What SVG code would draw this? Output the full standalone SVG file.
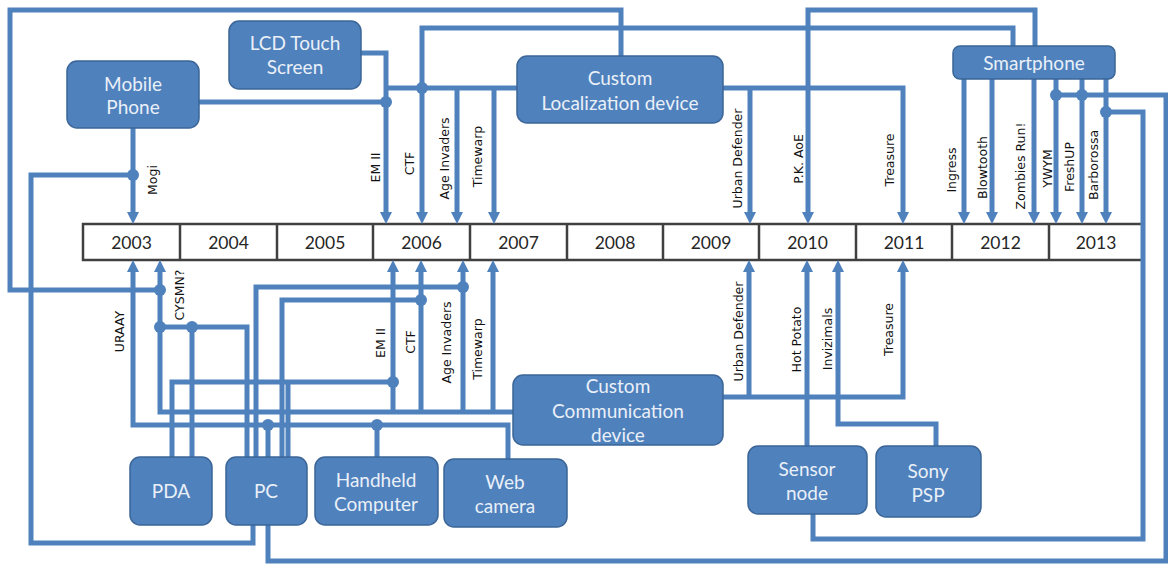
<svg xmlns="http://www.w3.org/2000/svg" width="1168" height="564" viewBox="0 0 1168 564">
<defs>
<style>
.c{fill:none;stroke:#4f81bd;stroke-width:5;stroke-linejoin:miter}
.a{marker-end:url(#ah)}
.dot{fill:#4f81bd}
.n{fill:#4f81bd;stroke:#3b6697;stroke-width:1.5}
.nt{font-family:Lato,"Open Sans",sans-serif;font-size:19px;fill:#eaf0f8;text-anchor:middle}
.yr{font-family:Lato,"Open Sans",sans-serif;font-size:17.5px;fill:#262626;text-anchor:middle}
.lb{font-family:"DejaVu Sans",Verdana,sans-serif;font-size:12.5px;fill:#111;text-anchor:middle}
.tl{fill:#fff;stroke:#404040;stroke-width:2.5}
</style>
<marker id="ah" markerUnits="userSpaceOnUse" viewBox="0 0 12 12" markerWidth="12" markerHeight="12" refX="4" refY="6" orient="auto">
<path d="M0,0 L12,6 L0,12 z" fill="#4f81bd"/>
</marker>
</defs>
<rect width="1168" height="564" fill="#fff"/>

<g id="timeline">
<path class="tl" d="M1143,224 H83 V260 H1143"/>
<path fill="none" stroke="#404040" stroke-width="2.5" d="M180,224V260M277,224V260M373,224V260M470,224V260M567,224V260M663,224V260M759,224V260M856,224V260M952,224V260M1049,224V260"/>
<text class="yr" x="131.5" y="249">2003</text>
<text class="yr" x="228.5" y="249">2004</text>
<text class="yr" x="325" y="249">2005</text>
<text class="yr" x="421.5" y="249">2006</text>
<text class="yr" x="518.5" y="249">2007</text>
<text class="yr" x="615" y="249">2008</text>
<text class="yr" x="711" y="249">2009</text>
<text class="yr" x="807.5" y="249">2010</text>
<text class="yr" x="904" y="249">2011</text>
<text class="yr" x="1000.5" y="249">2012</text>
<text class="yr" x="1096" y="249">2013</text>
</g>

<g id="connectors">
<path class="c" d="M621,56 V10 H10 V290 H160"/>
<path class="c a" d="M1013,46 V28 H422 V216"/>
<path class="c a" d="M1035,46 V10 H808 V216"/>
<path class="c a" d="M361,53 H386 V216"/>
<path class="c" d="M199,102 H386"/>
<path class="c" d="M517,88 H386"/>
<path class="c a" d="M457,88 V216"/>
<path class="c a" d="M494,88 V216"/>
<path class="c a" d="M723,88 H903 V216"/>
<path class="c a" d="M750,88 V216"/>
<path class="c a" d="M133,128 V216"/>
<path class="c" d="M133,175 H31 V543 H253 V525"/>
<path class="c a" d="M964,79 V216"/>
<path class="c a" d="M992,79 V216"/>
<path class="c a" d="M1034,79 V216"/>
<path class="c a" d="M1056,79 V216"/>
<path class="c a" d="M1082,79 V216"/>
<path class="c a" d="M1106,79 V216"/>
<path class="c" d="M1056,95 H1166 V561 H268 V525"/>
<path class="c" d="M1106,112 H1143 V539 H813 V514"/>
<path class="c a" d="M508,459 V425 H133 V268"/>
<path class="c" d="M268,457 V425"/>
<path class="c" d="M377,457 V425"/>
<path class="c a" d="M513,412 H160 V268"/>
<path class="c a" d="M393,412 V268"/>
<path class="c a" d="M421,412 V268"/>
<path class="c a" d="M463,412 V268"/>
<path class="c a" d="M493,412 V268"/>
<path class="c" d="M247,457 V327 H160"/>
<path class="c" d="M192,457 V327"/>
<path class="c" d="M256,457 V287 H463"/>
<path class="c" d="M282,457 V300 H421"/>
<path class="c" d="M172,457 V382 H393"/>
<path class="c" d="M288,457 V382"/>
<path class="c a" d="M723,397 H903 V268"/>
<path class="c a" d="M749,397 V268"/>
<path class="c a" d="M807,446 V268"/>
<path class="c a" d="M936,446 V424 H838 V268"/>
<circle class="dot" cx="160" cy="290" r="6"/>
<circle class="dot" cx="422" cy="88" r="6"/>
<circle class="dot" cx="386" cy="102" r="6"/>
<circle class="dot" cx="133" cy="175" r="6"/>
<circle class="dot" cx="1056" cy="95" r="6"/>
<circle class="dot" cx="1082" cy="95" r="6"/>
<circle class="dot" cx="1106" cy="112" r="6"/>
<circle class="dot" cx="268" cy="425" r="6"/>
<circle class="dot" cx="377" cy="425" r="6"/>
<circle class="dot" cx="160" cy="327" r="6"/>
<circle class="dot" cx="192" cy="327" r="6"/>
<circle class="dot" cx="463" cy="287" r="6"/>
<circle class="dot" cx="421" cy="300" r="6"/>
<circle class="dot" cx="393" cy="382" r="6"/>
</g>

<g id="labels">
<text class="lb" x="157" y="180" transform="rotate(-90 157 180)">Mogi</text>
<text class="lb" x="380" y="167.5" transform="rotate(-90 380 167.5)">EM II</text>
<text class="lb" x="414" y="163.5" transform="rotate(-90 414 163.5)">CTF</text>
<text class="lb" x="449" y="158.5" transform="rotate(-90 449 158.5)">Age Invaders</text>
<text class="lb" x="482" y="156.5" transform="rotate(-90 482 156.5)">Timewarp</text>
<text class="lb" x="742" y="158.5" transform="rotate(-90 742 158.5)">Urban Defender</text>
<text class="lb" x="803" y="159" transform="rotate(-90 803 159)">P.K. AoE</text>
<text class="lb" x="894" y="160" transform="rotate(-90 894 160)">Treasure</text>
<text class="lb" x="956" y="170" transform="rotate(-90 956 170)">Ingress</text>
<text class="lb" x="987" y="167.5" transform="rotate(-90 987 167.5)">Blowtooth</text>
<text class="lb" x="1025" y="166" transform="rotate(-90 1025 166)">Zombies Run!</text>
<text class="lb" x="1052" y="168.5" transform="rotate(-90 1052 168.5)">YWYM</text>
<text class="lb" x="1074" y="167" transform="rotate(-90 1074 167)">FreshUP</text>
<text class="lb" x="1098" y="165" transform="rotate(-90 1098 165)">Barborossa</text>
<text class="lb" x="124" y="331.5" transform="rotate(-90 124 331.5)">URAAY</text>
<text class="lb" x="184" y="295" transform="rotate(-90 184 295)">CYSMN?</text>
<text class="lb" x="385" y="343" transform="rotate(-90 385 343)">EM II</text>
<text class="lb" x="415" y="342" transform="rotate(-90 415 342)">CTF</text>
<text class="lb" x="451" y="342.5" transform="rotate(-90 451 342.5)">Age Invaders</text>
<text class="lb" x="482" y="349" transform="rotate(-90 482 349)">Timewarp</text>
<text class="lb" x="743" y="331.5" transform="rotate(-90 743 331.5)">Urban Defender</text>
<text class="lb" x="801" y="339.5" transform="rotate(-90 801 339.5)">Hot Potato</text>
<text class="lb" x="832" y="339" transform="rotate(-90 832 339)">Invizimals</text>
<text class="lb" x="893" y="329.5" transform="rotate(-90 893 329.5)">Treasure</text>
</g>

<g id="mobile-phone">
<rect class="n" x="67" y="61" width="132" height="67" rx="10"/>
<text class="nt" x="133" y="91">Mobile</text>
<text class="nt" x="133" y="114">Phone</text>
</g>
<g id="lcd-touch-screen">
<rect class="n" x="229" y="21" width="132" height="68" rx="10"/>
<text class="nt" x="295" y="50">LCD Touch</text>
<text class="nt" x="295" y="74">Screen</text>
</g>
<g id="custom-localization-device">
<rect class="n" x="517" y="56" width="206" height="67" rx="10"/>
<text class="nt" x="620" y="85">Custom</text>
<text class="nt" x="620" y="110">Localization device</text>
</g>
<g id="smartphone">
<rect class="n" x="953" y="46" width="162" height="33" rx="7"/>
<text class="nt" x="1034" y="70">Smartphone</text>
</g>
<g id="custom-communication-device">
<rect class="n" x="513" y="375" width="210" height="70" rx="10"/>
<text class="nt" x="618" y="393">Custom</text>
<text class="nt" x="618" y="418">Communication</text>
<text class="nt" x="618" y="442">device</text>
</g>
<g id="pda">
<rect class="n" x="130" y="457" width="82" height="68" rx="10"/>
<text class="nt" x="171" y="498">PDA</text>
</g>
<g id="pc">
<rect class="n" x="226" y="457" width="81" height="68" rx="10"/>
<text class="nt" x="266" y="498">PC</text>
</g>
<g id="handheld-computer">
<rect class="n" x="315" y="457" width="123" height="68" rx="10"/>
<text class="nt" x="376" y="487">Handheld</text>
<text class="nt" x="376" y="511">Computer</text>
</g>
<g id="web-camera">
<rect class="n" x="444" y="459" width="123" height="68" rx="10"/>
<text class="nt" x="505" y="489">Web</text>
<text class="nt" x="505" y="513">camera</text>
</g>
<g id="sensor-node">
<rect class="n" x="748" y="446" width="119" height="68" rx="10"/>
<text class="nt" x="807" y="476">Sensor</text>
<text class="nt" x="807" y="500">node</text>
</g>
<g id="sony-psp">
<rect class="n" x="876" y="446" width="105" height="71" rx="10"/>
<text class="nt" x="928" y="478">Sony</text>
<text class="nt" x="928" y="502">PSP</text>
</g>
</svg>
